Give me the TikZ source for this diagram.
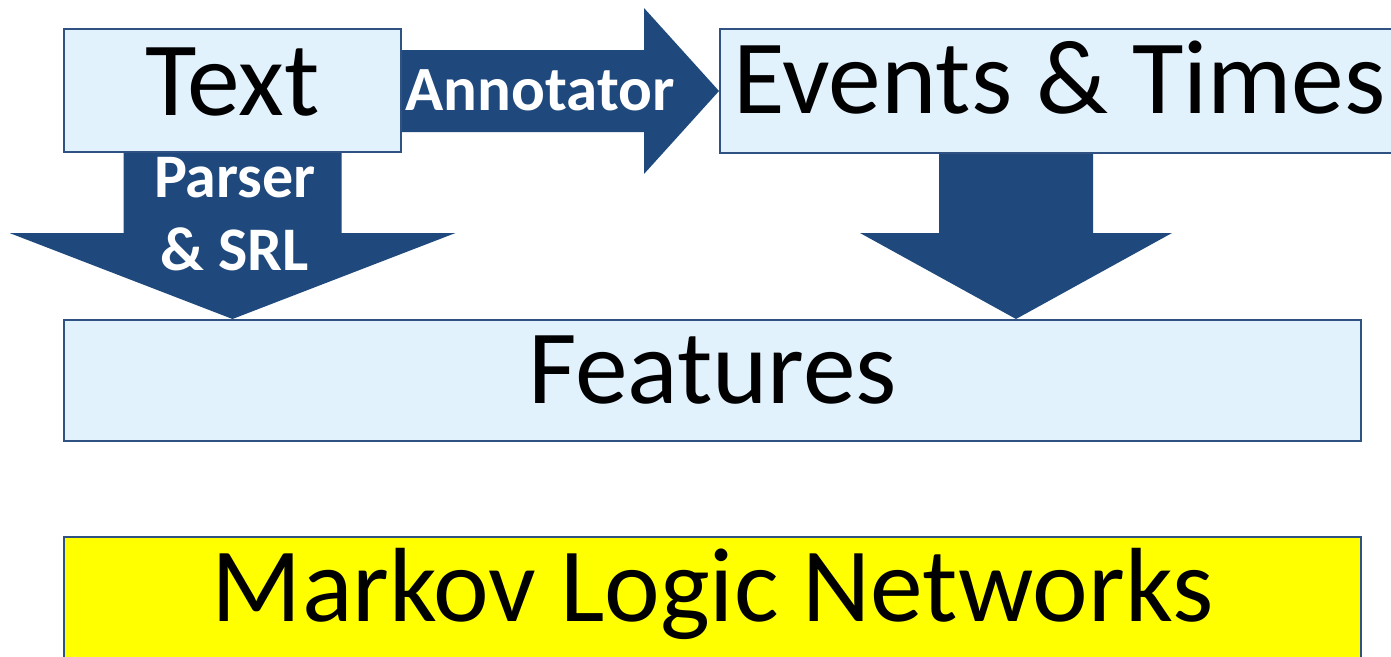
\documentclass[tikz,border=0pt]{standalone}
\usepackage{fontspec}
\setmainfont{Carlito}
\usetikzlibrary{calc}
\definecolor{flowblue}{HTML}{1F497D}
\definecolor{boxfill}{HTML}{E2F2FD}
\definecolor{boxline}{HTML}{2F5283}
\definecolor{mlnyellow}{HTML}{FFFF00}
\pgfdeclarelayer{background}
\pgfsetlayers{background,main}
\tikzset{
  box/.style={draw=boxline, line width=2pt, fill=boxfill, inner sep=0pt,
    anchor=base, font=\fontsize{105.5}{105.5}\selectfont},
  flow/.style={fill=flowblue},
  flowlabel/.style={text=white, inner sep=0pt, align=center}
}
\begin{document}
\begin{tikzpicture}[x=1pt,y=-1pt]
\useasboundingbox (0,0) rectangle (1391,656);
\clip (0,0) rectangle (1391,656);

% boxes
\node[box, minimum width=337pt, text height=86pt, text depth=37pt] (text) at (232.5,115) {Text};
\node[box, minimum width=679pt, text height=84pt, text depth=40pt] (events) at (1059.5,113) {Events \& Times};
\node[box, minimum width=1297pt, text height=83pt, text depth=38pt] (features) at (712.5,403) {Features};
\node[box, fill=mlnyellow, minimum width=1297pt, text height=84pt, text depth=40pt] (mln) at (712.5,621) {Markov Logic Networks};

% end points of the block arrows
\coordinate (a0) at (text.east |- events.west);
\coordinate (a1) at (events.west);
\coordinate (p0) at (text.south);
\coordinate (p1) at (text.south |- features.north);
\path (events.south) ++(-43.5,0) coordinate (e0);
\coordinate (e1) at (e0 |- features.north);

\begin{pgfonlayer}{background}
  % Annotator: Text -> Events & Times
  \fill[flow] ($(a0)+(0,-41)$) -- ($(a1)+(-75,-41)$) -- ($(a1)+(-75,-83)$) -- (a1)
    -- ($(a1)+(-75,83)$) -- ($(a1)+(-75,41)$) -- ($(a0)+(0,41)$) -- cycle;
  % Parser & SRL: Text -> Features
  \fill[flow] ($(p0)+(-109,0)$) -- ($(p1)+(-109,-86)$) -- ($(p1)+(-223,-86)$) -- (p1)
    -- ($(p1)+(223,-86)$) -- ($(p1)+(109,-86)$) -- ($(p0)+(109,0)$) -- cycle;
  % Events & Times -> Features
  \fill[flow] ($(e0)+(-77,0)$) -- ($(e1)+(-77,-86)$) -- ($(e1)+(-156,-86)$) -- (e1)
    -- ($(e1)+(156,-86)$) -- ($(e1)+(77,-86)$) -- ($(e0)+(77,0)$) -- cycle;
\end{pgfonlayer}

% arrow labels
\node[flowlabel, anchor=base, font=\bfseries\fontsize{63}{63}\selectfont] (annot) at (540,110) {Annotator};
\node[flowlabel, anchor=base, font=\bfseries\fontsize{62}{73}\selectfont] (parser) at (235,270) {Parser\\\& SRL};
\end{tikzpicture}
\end{document}
